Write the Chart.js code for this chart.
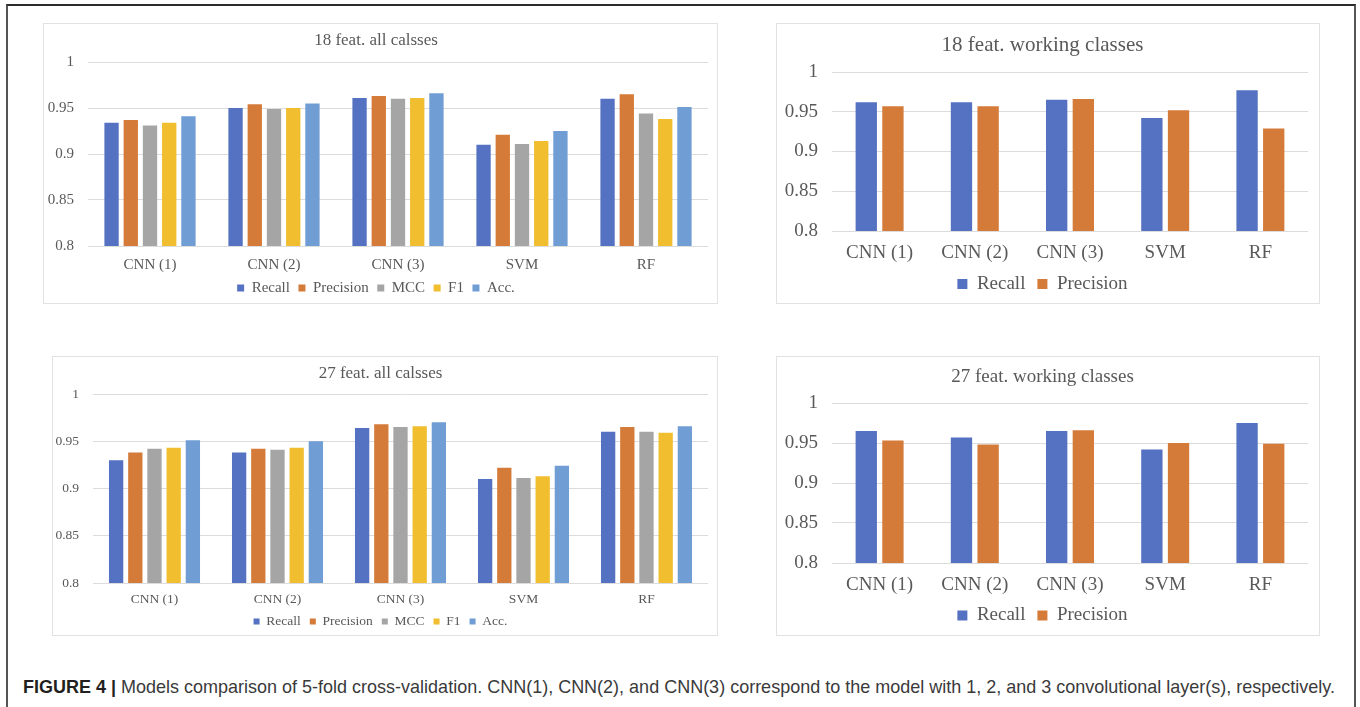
<!DOCTYPE html>
<html>
<head>
<meta charset="utf-8">
<script src="https://cdn.jsdelivr.net/npm/chart.js@4.4.1/dist/chart.umd.min.js"></script>
<style>
  html, body { margin: 0; padding: 0; background: #fff; }
  body { width: 1360px; height: 707px; position: relative; overflow: hidden; }
  .frame { position: absolute; left: 6px; top: 4px; width: 1346px; height: 760px;
           border: 2px solid #555; border-top-color: #2b2b2b; border-bottom: none; }
  .panel { position: absolute; border: 1px solid #e2e2e2; box-sizing: border-box; }
  canvas { position: absolute; }
  #caption { position: absolute; left: 23px; white-space: nowrap; font-family: 'Liberation Sans', Arial, sans-serif;
             color: #3a3a3a; line-height: 1; transform-origin: 0 0; }
  #caption b { color: #231f20; }
</style>
</head>
<body>
<div class="frame"></div>
<div id="caption"><b>FIGURE 4 |</b> Models comparison of 5-fold cross-validation. CNN(1), CNN(2), and CNN(3) correspond to the model with 1, 2, and 3 convolutional layer(s), respectively.</div>
<script>
// Categories, series names and tick labels
const models = ['CNN (1)', 'CNN (2)', 'CNN (3)', 'SVM', 'RF'];
const metricNames5 = ['Recall', 'Precision', 'MCC', 'F1', 'Acc.'];
const metricNames2 = ['Recall', 'Precision'];
const yTickLabels = ['0.8', '0.85', '0.9', '0.95', '1'];

// 18 features, all classes
const all18Recall    = [0.934, 0.950, 0.961, 0.910, 0.960];
const all18Precision = [0.937, 0.954, 0.963, 0.921, 0.965];
const all18MCC       = [0.931, 0.949, 0.960, 0.911, 0.944];
const all18F1        = [0.934, 0.950, 0.961, 0.914, 0.938];
const all18Acc       = [0.941, 0.955, 0.966, 0.925, 0.951];

// 18 features, working classes
const work18Recall    = [0.962, 0.962, 0.965, 0.942, 0.977];
const work18Precision = [0.957, 0.957, 0.966, 0.952, 0.929];

// 27 features, all classes
const all27Recall    = [0.930, 0.938, 0.964, 0.910, 0.960];
const all27Precision = [0.938, 0.942, 0.968, 0.922, 0.965];
const all27MCC       = [0.942, 0.941, 0.965, 0.911, 0.960];
const all27F1        = [0.943, 0.943, 0.966, 0.913, 0.959];
const all27Acc       = [0.951, 0.950, 0.970, 0.924, 0.966];

// 27 features, working classes
const work27Recall    = [0.965, 0.957, 0.965, 0.942, 0.975];
const work27Precision = [0.953, 0.948, 0.966, 0.950, 0.949];

const colors5 = ['#5571C1', '#D57B39', '#A5A5A5', '#F0BE2F', '#6F9DD4'];
const textColor = '#595959';
const gridColor = '#dcdcdc';
const serif = "'Liberation Serif', 'Times New Roman', serif";

// Page-space layout of each panel: frame box, plot rectangle and text rows
const panels = [
  { box: [43, 23, 675, 281], plot: [88, 62, 708, 246], title: '18 feat. all calsses', titleSize: 17, titleY: 41,
    tickSize: 15, tickRight: 74, catSize: 15, catY: 265, legSize: 15, legY: 288, legBox: 7, legGap: 8.5,
    names: metricNames5, series: [all18Recall, all18Precision, all18MCC, all18F1, all18Acc],
    catPct: 0.775, barPct: 0.745 },
  { box: [776, 23, 544, 281], plot: [832, 72, 1308, 231], title: '18 feat. working classes', titleSize: 21, titleY: 45,
    tickSize: 19, tickRight: 818, catSize: 19, catY: 253, legSize: 19, legY: 284, legBox: 10, legGap: 12,
    names: metricNames2, series: [work18Recall, work18Precision],
    catPct: 0.56, barPct: 0.80 },
  { box: [52, 356, 666, 280], plot: [93, 394, 708, 583], title: '27 feat. all calsses', titleSize: 17, titleY: 373.5,
    tickSize: 13.5, tickRight: 79, catSize: 13.5, catY: 599, legSize: 13.5, legY: 621.5, legBox: 6, legGap: 9,
    names: metricNames5, series: [all27Recall, all27Precision, all27MCC, all27F1, all27Acc],
    catPct: 0.78, barPct: 0.745 },
  { box: [776, 356, 544, 280], plot: [832, 403, 1308, 563], title: '27 feat. working classes', titleSize: 19, titleY: 377,
    tickSize: 19, tickRight: 818, catSize: 19, catY: 585, legSize: 19, legY: 615.5, legBox: 10, legGap: 12,
    names: metricNames2, series: [work27Recall, work27Precision],
    catPct: 0.56, barPct: 0.80 }
];

function makeChart(p) {
  const [bx, by, bw, bh] = p.box;
  const frame = document.createElement('div');
  frame.className = 'panel';
  Object.assign(frame.style, { left: bx + 'px', top: by + 'px', width: bw + 'px', height: bh + 'px' });
  document.body.appendChild(frame);

  const cx = bx + 1, cy = by + 1, cw = bw - 2;
  const L = p.plot[0] - cx, T = p.plot[1] - cy, R = p.plot[2] - cx, B = p.plot[3] - cy;

  // legend row sits at the bottom; the x axis fills the gap above it
  const legYc = p.legY - cy;
  const legBottom = legYc + p.legSize / 2 + 10;
  const ch = Math.ceil(legBottom) + 1;
  const padBottom = ch - legBottom;
  const legTop = legYc - p.legGap - p.legSize / 2;
  const xAxisH = legTop - B;
  const catPad = (p.catY - cy) - B - p.catSize * 1.2 / 2;
  const titleLH = p.titleSize * 1.2;
  const titleYc = p.titleY - cy;

  const canvas = document.createElement('canvas');
  canvas.width = cw; canvas.height = ch;
  Object.assign(canvas.style, { left: cx + 'px', top: cy + 'px', width: cw + 'px', height: ch + 'px' });
  document.body.appendChild(canvas);

  new Chart(canvas, {
    type: 'bar',
    data: {
      labels: models,
      datasets: p.series.map((d, i) => ({
        label: p.names[i], data: d, backgroundColor: colors5[i], borderWidth: 0,
        categoryPercentage: p.catPct, barPercentage: p.barPct
      }))
    },
    options: {
      responsive: false, animation: false, devicePixelRatio: 1, events: [],
      layout: { padding: { top: 0, left: 0, right: cw - R, bottom: padBottom } },
      plugins: {
        title: {
          display: true, text: p.title, color: textColor,
          font: { family: serif, size: p.titleSize, weight: 'normal', lineHeight: 1.2 },
          padding: { top: titleYc - titleLH / 2, bottom: T - titleYc - titleLH / 2 }
        },
        legend: {
          position: 'bottom',
          labels: { color: textColor, font: { family: serif, size: p.legSize }, boxWidth: p.legBox, boxHeight: p.legBox, padding: p.legGap }
        },
        tooltip: { enabled: false }
      },
      scales: {
        x: {
          grid: { display: false, drawTicks: false }, border: { display: false },
          ticks: { color: textColor, font: { family: serif, size: p.catSize, lineHeight: 1.2 }, padding: catPad, maxRotation: 0, autoSkip: false },
          afterFit: s => { s.height = xAxisH; }
        },
        y: {
          min: 0.8, max: 1,
          grid: { color: gridColor, drawTicks: false, lineWidth: 1 }, border: { display: false },
          ticks: { stepSize: 0.05, color: textColor, font: { family: serif, size: p.tickSize }, padding: p.plot[0] - p.tickRight,
                   callback: (v, i) => yTickLabels[i] },
          afterFit: s => { s.width = L; }
        }
      }
    }
  });
}

panels.forEach(makeChart);

// caption: fit the line to its printed width, baseline at y = 693
(function () {
  const cap = document.getElementById('caption');
  const size = 19;
  cap.style.fontSize = size + 'px';
  const natural = cap.getBoundingClientRect().width;
  const sx = 1312 / natural;
  cap.style.transform = 'scaleX(' + sx.toFixed(4) + ')';
  cap.style.top = (693 - 0.8465 * size) + 'px';
})();
</script>
</body>
</html>
